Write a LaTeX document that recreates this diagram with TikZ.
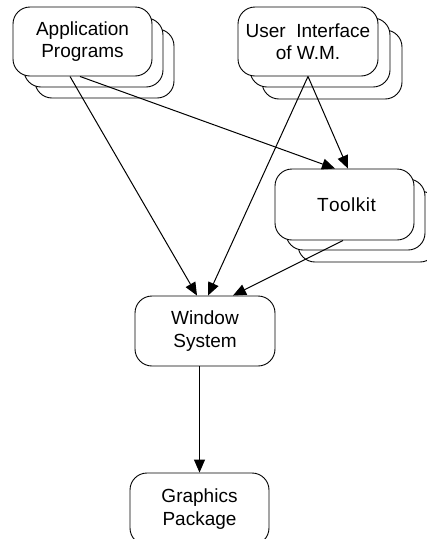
\documentclass[tikz,border=0pt]{standalone}
\usepackage{fontspec}
\setmainfont{Liberation Sans}
\usetikzlibrary{arrows.meta}
\tikzset{
  box/.style={draw, line width=0.9pt, rounded corners=17pt, fill=white, inner sep=0pt,
    align=center, font=\fontsize{19}{22.5}\selectfont},
  conn/.style={line width=1pt, -{Triangle[length=13pt,width=11pt]}}
}
\begin{document}
\begin{tikzpicture}[x=1pt,y=-1pt]
\useasboundingbox (0,0) rectangle (427,539);
% Application Programs stack
\node[box, minimum width=139pt, minimum height=69pt] (app3) at (104.5,63.5) {};
\node[box, minimum width=139pt, minimum height=69pt] (app2) at (93.5,52.5) {};
\node[box, minimum width=139pt, minimum height=69pt] (app) at (82.5,41.5) {Application\\Programs};
% User Interface stack
\node[box, minimum width=140pt, minimum height=69pt] (ui3) at (332,64.5) {};
\node[box, minimum width=140pt, minimum height=69pt] (ui2) at (320,52.5) {};
\node[box, minimum width=140pt, minimum height=69pt] (ui) at (308,41.5) {User\ \ Interface\\of W.M.};
% Toolkit stack
\node[box, minimum width=139pt, minimum height=71pt] (tk3) at (367.5,226.5) {};
\node[box, minimum width=139pt, minimum height=71pt] (tk2) at (355.5,214.5) {};
\node[box, minimum width=139pt, minimum height=71pt] (tk) at (344.5,204.5) {\hspace{4pt}T\kern0.5pt o\kern0.5pt o\kern0.5pt l\kern0.5pt k\kern0.5pt i\kern0.5pt t};
% Window System
\node[box, minimum width=140pt, minimum height=70pt] (ws) at (205,331) {Window\\System};
% Graphics Package
\node[box, minimum width=139pt, minimum height=72pt] (gp) at (199.5,509) {Graphics\\Package};
% connectors
\draw[conn] ([xshift=-12.5pt]app.south) -- ([xshift=-8pt]ws.north);
\draw[conn] ([xshift=-2.5pt]app.south) -- ([xshift=-9.5pt]tk.north);
\draw[conn] (ui.south) -- ([xshift=3pt]ws.north);
\draw[conn] (ui.south) -- ([xshift=3.5pt]tk.north);
\draw[conn] ([xshift=-1.5pt]tk.south) -- ([xshift=28pt]ws.north);
\draw[conn] (ws.south -| gp.north) -- (gp.north);
\end{tikzpicture}
\end{document}
